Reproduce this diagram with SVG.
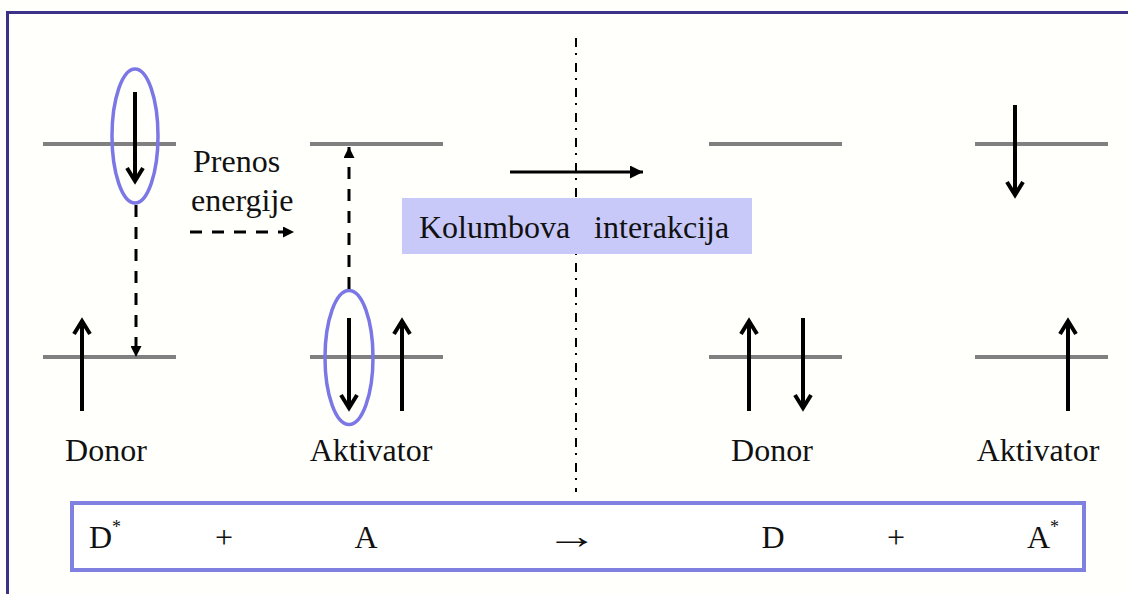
<svg xmlns="http://www.w3.org/2000/svg" width="1128" height="594" viewBox="0 0 1128 594" font-family="Liberation Serif, Times New Roman, serif">
  <style>
    .lvl { stroke: #808080; stroke-width: 4; fill: none; }
    .spin { stroke: #000; stroke-width: 4; fill: none; }
    .head { stroke: #000; stroke-width: 4; fill: none; stroke-linejoin: miter; }
    .orb { stroke: #7b77e4; stroke-width: 3.5; fill: none; }
    .dash { stroke: #000; stroke-width: 3; stroke-dasharray: 12 10; fill: none; }
  </style>
  <defs>
    <marker id="tri" viewBox="0 0 10 10" refX="10" refY="5" markerWidth="12" markerHeight="11" markerUnits="userSpaceOnUse" orient="auto">
      <path d="M0,0 L10,5 L0,10 Z" fill="#000"/>
    </marker>
    <marker id="tri-big" viewBox="0 0 10 10" refX="10" refY="5" markerWidth="16" markerHeight="13" markerUnits="userSpaceOnUse" orient="auto">
      <path d="M0,0 L10,5 L0,10 Z" fill="#000"/>
    </marker>
  </defs>

  <rect x="0" y="0" width="1128" height="594" fill="#fffffc"/>
  <!-- outer frame -->
  <rect x="7.5" y="12.5" width="1130" height="600" fill="none" stroke="#3c3388" stroke-width="3"/>

  <!-- separator between before / after states -->
  <line x1="576" y1="38" x2="576" y2="492" stroke="#000" stroke-width="2" stroke-dasharray="9 6 2 8"/>

  <!-- Donor (excited) -->
  <g id="donor-left">
    <line class="lvl" x1="43" y1="144" x2="176" y2="144"/>
    <line class="lvl" x1="43" y1="357" x2="176" y2="357"/>
    <ellipse class="orb" cx="135" cy="136" rx="23" ry="67"/>
    <line class="spin" x1="135" y1="92" x2="135" y2="181"/>
    <polyline class="head" points="127,168 135,181 143,168"/>
    <line class="spin" x1="82" y1="411" x2="82" y2="321"/>
    <polyline class="head" points="74,334 82,321 90,334"/>
    <text x="106" y="461" font-size="32" fill="#111" text-anchor="middle">Donor</text>
  </g>

  <!-- Aktivator (ground) -->
  <g id="aktivator-left">
    <line class="lvl" x1="310" y1="144" x2="443" y2="144"/>
    <line class="lvl" x1="310" y1="357" x2="443" y2="357"/>
    <ellipse class="orb" cx="349" cy="357.5" rx="24" ry="67"/>
    <line class="spin" x1="349" y1="318" x2="349" y2="408"/>
    <polyline class="head" points="341,395 349,408 357,395"/>
    <line class="spin" x1="402" y1="411" x2="402" y2="321"/>
    <polyline class="head" points="394,334 402,321 410,334"/>
    <text x="371" y="461" font-size="32" fill="#111" text-anchor="middle">Aktivator</text>
  </g>

  <!-- Donor (ground, after transfer) -->
  <g id="donor-right">
    <line class="lvl" x1="709" y1="144" x2="842" y2="144"/>
    <line class="lvl" x1="709" y1="357" x2="842" y2="357"/>
    <line class="spin" x1="749" y1="411" x2="749" y2="321"/>
    <polyline class="head" points="741,334 749,321 757,334"/>
    <line class="spin" x1="803" y1="318" x2="803" y2="408"/>
    <polyline class="head" points="795,395 803,408 811,395"/>
    <text x="772" y="461" font-size="32" fill="#111" text-anchor="middle">Donor</text>
  </g>

  <!-- Aktivator (excited, after transfer) -->
  <g id="aktivator-right">
    <line class="lvl" x1="975" y1="144" x2="1108" y2="144"/>
    <line class="lvl" x1="975" y1="357" x2="1108" y2="357"/>
    <line class="spin" x1="1015" y1="105" x2="1015" y2="195"/>
    <polyline class="head" points="1007,182 1015,195 1023,182"/>
    <line class="spin" x1="1068" y1="411" x2="1068" y2="321"/>
    <polyline class="head" points="1060,334 1068,321 1076,334"/>
    <text x="1038" y="461" font-size="32" fill="#111" text-anchor="middle">Aktivator</text>
  </g>

  <!-- energy transfer label -->
  <g id="prenos-label" font-size="32" fill="#111">
    <text x="193" y="172">Prenos</text>
    <text x="191" y="211">energije</text>
  </g>

  <!-- Coulomb interaction label -->
  <g id="kolumbova">
    <rect x="402" y="198" width="350" height="56" fill="#c9c9f9"/>
    <text x="419" y="238" font-size="32" fill="#111" xml:space="preserve">Kolumbova   interakcija</text>
  </g>

  <!-- reaction equation -->
  <g id="equation" font-size="32" fill="#111">
    <rect x="72" y="503" width="1012" height="67" fill="#ffffff" stroke="#8080e0" stroke-width="4"/>
    <text x="89" y="548">D</text>
    <text x="112" y="533" font-size="18">*</text>
    <text x="224" y="548" text-anchor="middle">+</text>
    <text x="366" y="548" text-anchor="middle">A</text>
    <text transform="translate(572,548) scale(1.45,1)" x="0" y="0" font-size="36" text-anchor="middle">→</text>
    <text x="773" y="548" text-anchor="middle">D</text>
    <text x="896" y="548" text-anchor="middle">+</text>
    <text x="1027" y="548">A</text>
    <text x="1050" y="533" font-size="18">*</text>
  </g>

  <!-- connectors -->
  <g id="connectors">
    <line class="dash" x1="136" y1="205" x2="136" y2="357" marker-end="url(#tri)"/>
    <line class="dash" x1="190" y1="232" x2="294" y2="232" marker-end="url(#tri)"/>
    <line class="dash" x1="349" y1="289" x2="349" y2="147" marker-end="url(#tri)"/>
    <line x1="510" y1="172" x2="643" y2="172" stroke="#000" stroke-width="3" marker-end="url(#tri-big)"/>
  </g>
</svg>
